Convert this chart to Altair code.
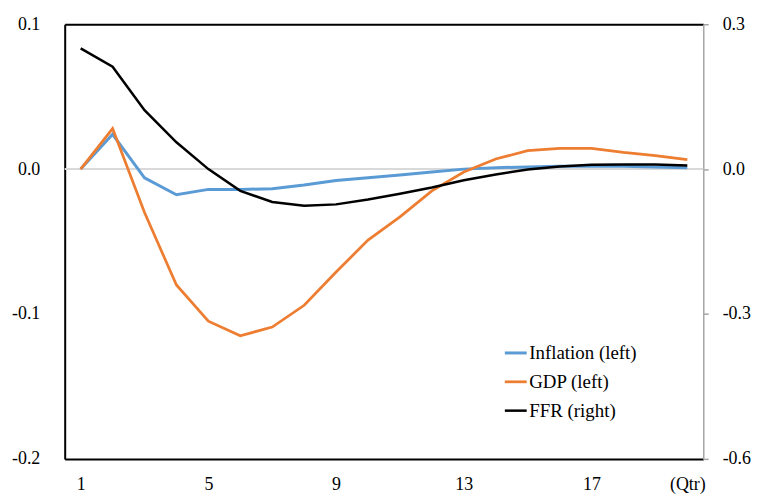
import altair as alt
import pandas as pd

quarters = list(range(1, 21))
inflation = [0.0, 0.024, -0.006, -0.0177, -0.014, -0.014, -0.0136, -0.011, -0.0078, -0.006,
             -0.004, -0.002, 0.0, 0.001, 0.0015, 0.002, 0.002, 0.002, 0.0015, 0.001]
gdp = [0.0, 0.028, -0.030, -0.080, -0.105, -0.115, -0.109, -0.094, -0.071, -0.049,
       -0.033, -0.015, -0.002, 0.007, 0.0127, 0.0143, 0.0143, 0.0115, 0.0093, 0.0065]
ffr = [0.25, 0.212, 0.122, 0.0556, 0.0, -0.045, -0.068, -0.076, -0.073, -0.063,
       -0.051, -0.038, -0.023, -0.011, -0.001, 0.0056, 0.009, 0.0097, 0.0097, 0.0076]

series_names = ["Inflation (left)", "GDP (left)", "FFR (right)"]
series_colors = ["#5B9BD5", "#ED7D31", "#000000"]
series_widths = [3, 2.5, 3.5]
x_ticks = [1, 5, 9, 13, 17, 20]
left_ticks = [-0.2, -0.1, 0.0, 0.1]
right_ticks = [-0.6, -0.3, 0.0, 0.3]
zero_line = [0.0]

FONT = "'Liberation Serif', 'Times New Roman', 'DejaVu Serif', serif"

left_df = pd.DataFrame({
    "q": quarters * 2,
    "series": [series_names[0]] * len(quarters) + [series_names[1]] * len(quarters),
    "value": inflation + gdp,
})
right_df = pd.DataFrame({"q": quarters, "series": series_names[2], "value": ffr})
zero_df = pd.DataFrame({"zero": zero_line})

x_scale = alt.Scale(domain=[0.5, 20.5], nice=False, zero=False)
left_scale = alt.Scale(domain=[-0.2, 0.1], nice=False, zero=False)
right_scale = alt.Scale(domain=[-0.6, 0.3], nice=False, zero=False)

minus_fix = "replace(datum.label, '\u2212', '-')"

left_axis = alt.Axis(values=left_ticks, format=".1f", labelExpr=minus_fix, orient="left",
                     domainColor="black", domainWidth=2, ticks=False, grid=False,
                     labelPadding=25, title=None)
right_axis = alt.Axis(values=right_ticks, format=".1f", labelExpr=minus_fix, orient="right",
                      domainColor="#A6A6A6", domainWidth=1.5, tickColor="#A6A6A6",
                      tickSize=5, tickWidth=1.5, labelPadding=14, grid=False, title=None)
bottom_axis = alt.Axis(values=x_ticks, labelExpr="datum.value == 20 ? '(Qtr)' : datum.label",
                       ticks=False, domainColor="black", domainWidth=2, labelPadding=17,
                       grid=False, title=None, labelFlush=False)
top_axis = alt.Axis(orient="top", labels=False, ticks=False, domainColor="black",
                    domainWidth=2, grid=False, title=None)

legend_kw = dict(title=None, orient="none", legendX=441, legendY=318, symbolType="stroke",
                 symbolSize=484, labelFont=FONT, labelFontSize=19, labelColor="black",
                 labelOffset=1, rowPadding=6, padding=0)

color = alt.Color("series:N", scale=alt.Scale(domain=series_names, range=series_colors),
                  legend=alt.Legend(**legend_kw))
width_enc = alt.StrokeWidth("series:N", scale=alt.Scale(domain=series_names, range=series_widths),
                            legend=alt.Legend(**legend_kw))

zero_rule = alt.Chart(zero_df).mark_rule(color="#D9D9D9", strokeWidth=2).encode(
    y=alt.Y("zero:Q", scale=left_scale, axis=left_axis)
)

left_lines = alt.Chart(left_df).mark_line().encode(
    x=alt.X("q:Q", scale=x_scale, axis=bottom_axis),
    y=alt.Y("value:Q", scale=left_scale, axis=left_axis),
    color=color,
    strokeWidth=width_enc,
)

ffr_line = alt.Chart(right_df).mark_line().encode(
    x=alt.X("q:Q", scale=x_scale, axis=top_axis),
    y=alt.Y("value:Q", scale=right_scale, axis=right_axis),
    color=color,
    strokeWidth=width_enc,
)

inner = alt.layer(zero_rule, left_lines)

chart = alt.layer(inner, ffr_line).resolve_scale(y="independent").resolve_axis(
    x="independent"
).properties(
    width=642,
    height=437,
    autosize=alt.AutoSizeParams(type="none"),
    padding={"left": 57, "top": 15, "right": 50, "bottom": 37},
).configure_view(stroke=None).configure_axis(
    labelFont=FONT, labelFontSize=18, labelColor="black"
)

chart.save("out.html", embed_options={"renderer": "svg", "actions": False})
